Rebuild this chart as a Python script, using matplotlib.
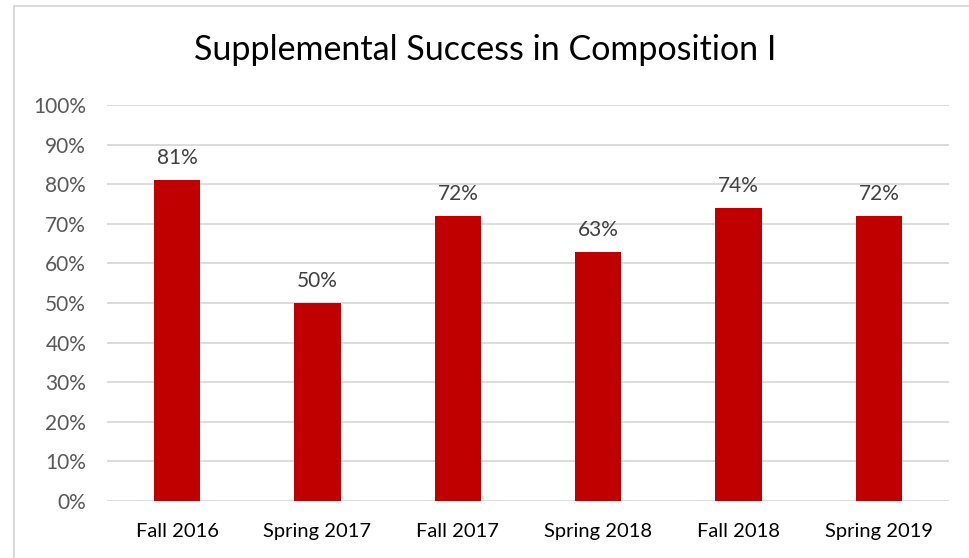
import matplotlib
matplotlib.use("Agg")
import matplotlib.pyplot as plt
from matplotlib.patches import Rectangle
from matplotlib.ticker import FuncFormatter

terms = ["Fall 2016", "Spring 2017", "Fall 2017", "Spring 2018", "Fall 2018", "Spring 2019"]
success = [81, 50, 72, 63, 74, 72]
yticks = list(range(0, 101, 10))

plt.rcParams["font.family"] = ["Lato", "DejaVu Sans"]

W, H = 970, 558
fig = plt.figure(figsize=(W / 100, H / 100), dpi=100)
ax = fig.add_axes([107 / W, 1 - 501 / H, (949 - 107) / W, (501 - 105) / H])

# chart border (right/bottom edges run off the image)
fig.patches.append(Rectangle((14 / W, -0.1), 1.2, 1.1 - 6 / H, transform=fig.transFigure,
                             fill=False, edgecolor="#d9d9d9", lw=1.5))

x = range(len(terms))
ax.bar(x, success, width=0.33, color="#c00000", zorder=3)
for xi, v in zip(x, success):
    ax.text(xi, v + 3.0, f"{v}%", ha="center", va="bottom", fontsize=15, color="#404040")

ax.set_ylim(0, 100)
ax.set_xlim(-0.5, len(terms) - 0.5)
ax.set_yticks(yticks)
ax.yaxis.set_major_formatter(FuncFormatter(lambda v, _: f"{v:.0f}%"))
ax.grid(axis="y", color="#d9d9d9", lw=1.3, zorder=0)
for s in ax.spines.values():
    s.set_visible(False)
ax.tick_params(axis="y", length=0, pad=15, labelsize=15, labelcolor="#595959")
ax.tick_params(axis="x", length=0, pad=16, labelsize=14.5, labelcolor="black")
ax.set_xticks(list(x))
ax.set_xticklabels(terms)

fig.text(0.5, 1 - 50 / H, "Supplemental Success in Composition I", ha="center", va="center",
         fontsize=24.5, color="black")

fig.savefig("out.png", dpi=100)
